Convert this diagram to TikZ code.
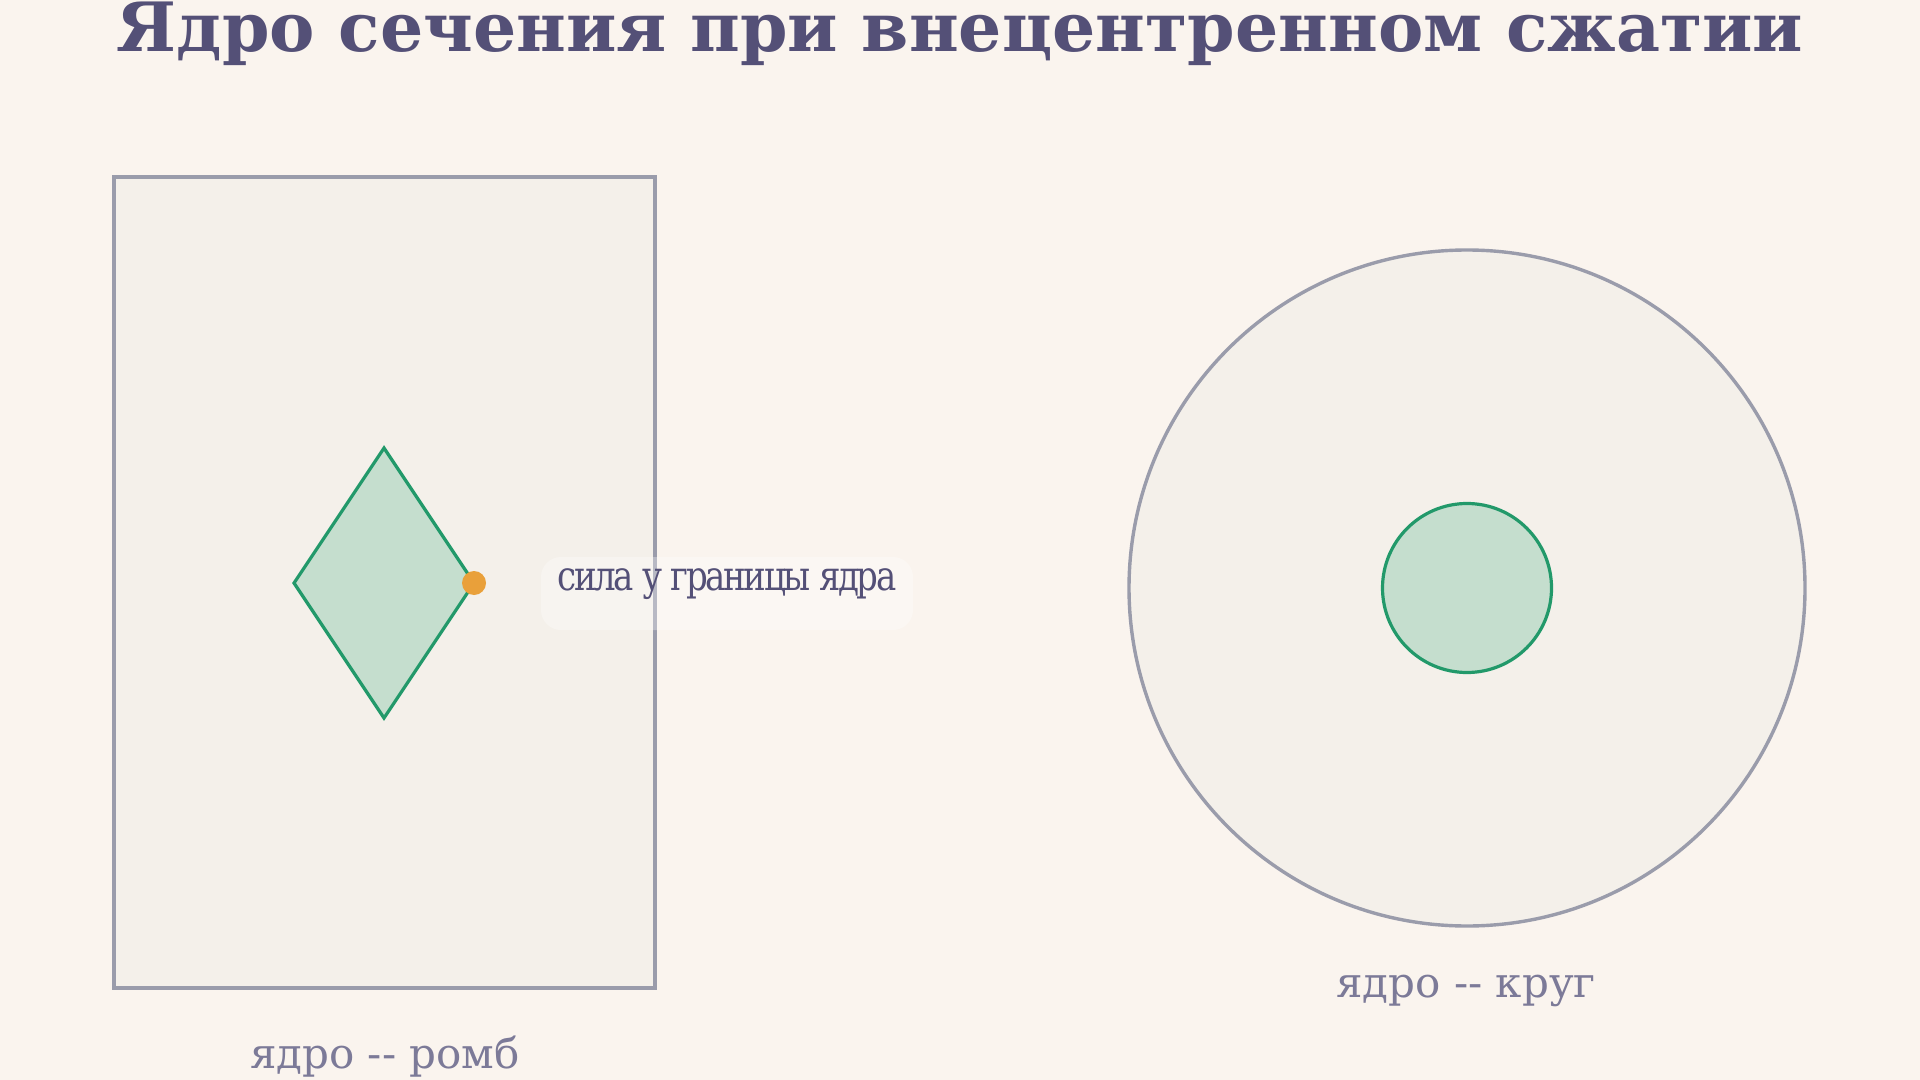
\documentclass[tikz,border=0pt]{standalone}
\usepackage{fontspec}
\setmainfont{DejaVu Serif}
\newfontfamily\tightserif[LetterSpace=-7]{DejaVu Serif}
\definecolor{pagebg}{HTML}{FAF4EE}
\definecolor{secfill}{HTML}{F4F0EA}
\definecolor{secline}{HTML}{9A9CAB}
\definecolor{coreline}{HTML}{22996A}
\definecolor{corefill}{HTML}{C5DECE}
\definecolor{forcecol}{HTML}{E9A03A}
\definecolor{titlecol}{HTML}{545077}
\definecolor{capcol}{HTML}{7C7A98}
\tikzset{
  section/.style={draw=secline, fill=secfill, line width=1.7pt},
  core/.style={draw=coreline, fill=corefill, line width=1.6pt, line join=miter},
  caption/.style={text=capcol, font=\fontsize{21}{25}\selectfont, anchor=base, inner sep=0pt},
}
\begin{document}
\begin{tikzpicture}[x=0.5pt, y=-0.5pt]
\fill[pagebg] (0,0) rectangle (1920,1080);
\useasboundingbox (0,0) rectangle (1920,1080);
% title
\node[anchor=base, inner sep=0pt, text=titlecol, font=\fontsize{34}{40}\selectfont\bfseries] (title) at (960,52) {Ядро сечения при внецентренном сжатии};
% circle section
\node[section, circle, minimum size=338pt, inner sep=0pt] (bigc) at (1467,588) {};
\node[core, circle, minimum size=84.5pt, inner sep=0pt] (smallc) at (1467,588) {};
\node[caption] (capc) at (1466,997) {ядро -{}- круг};
% rectangle section
\draw[section] (114,177) rectangle (655,988);
\draw[core] (294,583) coordinate (dl) -- (384,448) coordinate (dt) -- (474,583) coordinate (dr) -- (384,718) coordinate (db) -- cycle;
\fill[forcecol] (dr) circle[radius=6pt];
\node[fill=white, fill opacity=0.3, rounded corners=10pt, minimum width=186pt, minimum height=36.5pt, inner sep=0pt] (forcebox) at (727,593.5) {};
\node[anchor=base, inner sep=0pt, text=titlecol] (force) at (727,590) {\scalebox{0.83}[1]{\fontsize{20.5}{24}\tightserif сила у границы ядра}};
\node[caption] (capr) at (385,1068) {ядро -{}- ромб};
\end{tikzpicture}
\end{document}
